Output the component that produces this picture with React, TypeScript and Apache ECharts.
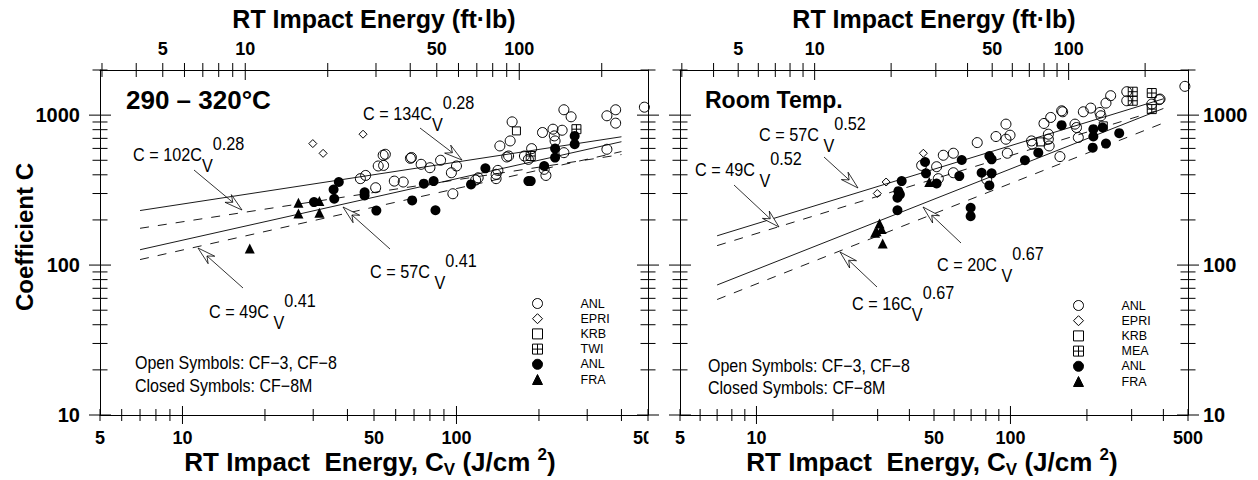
import React, { useEffect, useRef } from "react";
import * as echarts from "echarts";

// ---------- constants / data ----------
const FT_LB_PER_J_CM2 = 0.8 / 1.3558; // ft·lb per J/cm² (0.8 cm² Charpy ligament)

const cvRange = [5, 500];
const cRange = [10, 2000];
const fitCvRange = [7, 400];

const bottomTicks = [5, 6, 7, 8, 9, 10, 20, 30, 40, 50, 60, 70, 80, 90, 100, 200, 300, 400, 500];
const bottomMajor = [10, 100];
const bottomLabels = [5, 10, 50, 100, 500];
const topTicksFt = [3, 4, 5, 6, 7, 8, 9, 10, 20, 30, 40, 50, 60, 70, 80, 90, 100, 200];
const topMajorFt = [10, 100];
const topLabelsFt = [5, 10, 50, 100];
const cTicks = [10, 20, 30, 40, 50, 60, 70, 80, 90, 100, 200, 300, 400, 500, 600, 700, 800, 900, 1000, 2000];
const cMajor = [10, 100, 1000];
const cLabels = [10, 100, 1000];

// fits: C = A * Cv^n
const leftFitA = [134, 102, 57, 49];
const leftFitN = [0.28, 0.28, 0.41, 0.41];
const rightFitA = [57, 49, 20, 16];
const rightFitN = [0.52, 0.52, 0.67, 0.67];
const fitDashed = [false, true, false, true];

// 290–320°C panel
const leftOpenAnl = [
  [44.6, 377], [46.6, 396], [50.7, 328], [51.8, 458], [54.2, 462], [54, 540], [55, 548], [59.3, 363],
  [63.9, 358], [67.9, 515], [68.5, 522], [74.3, 470], [80, 446], [87.5, 500], [95.8, 413], [97, 299],
  [100, 458], [117.5, 369], [120, 382], [139.5, 403], [139.5, 377], [141.6, 428], [144, 623], [152.6, 526],
  [155, 534], [157, 673], [159.6, 902], [177, 534], [183, 507], [188, 598], [206, 766], [209, 435],
  [212, 396], [225, 806], [227.5, 727], [229, 673], [243, 793], [246.6, 562], [246.6, 1086], [262, 975],
  [354, 990], [354, 592], [381, 1086], [381, 884], [485, 1130],
];
const leftEpri = [[29.9, 646], [32.6, 556], [45.6, 746]];
const leftKrb = [[165.5, 785]];
const leftTwi = [[186.6, 534], [274, 806]];
const leftClosedAnl = [
  [30.2, 263], [35.6, 319], [35.8, 277], [37.2, 358], [46.2, 306], [46.2, 291], [51, 231], [68.9, 270],
  [76, 349], [82.5, 363], [83.8, 232], [113, 345], [127.5, 442], [183, 363], [186.6, 363], [209, 458],
  [229, 598], [229, 521], [270, 727], [270, 640],
];
const leftFra = [[17.6, 129], [26.5, 260], [26.5, 221], [31.6, 267], [31.6, 223]];

// Room temperature panel
const rightOpenAnl = [
  [44.7, 462], [51.2, 453], [52, 377], [54.4, 540], [59.6, 557], [59.6, 413], [74, 656], [80.6, 373],
  [87.7, 720], [96, 691], [96, 871], [97.2, 557], [99.6, 735], [121, 673], [122, 640], [135.5, 880],
  [141, 746], [141, 691], [142, 623], [144, 965], [156.6, 529], [159, 1069], [160.5, 1053], [179.5, 871],
  [182, 827], [185, 709], [193.6, 1053], [207, 1114], [225, 1042], [227, 990], [237.7, 1203], [248, 1348],
  [287, 1433], [287, 1247], [360, 1185], [385, 1268], [388, 1280], [486, 1556],
];
const rightEpri = [[29.9, 300], [32.4, 358], [45.4, 557]];
const rightKrb = [[131.5, 663], [232, 848]];
const rightMea = [[303, 1433], [303, 1247], [360, 1404], [360, 1097]];
const rightClosedAnl = [
  [35.9, 232], [35.9, 281], [36.7, 296], [36.2, 311], [37.3, 363], [46.1, 487], [46.5, 409], [51.2, 350],
  [62.9, 392], [64.3, 502], [69.7, 241], [69.7, 212], [77, 413], [82.6, 534], [84.3, 507], [84.3, 409],
  [82.6, 340], [114, 500], [128.7, 562], [159, 857], [210.8, 607], [212, 806], [212, 720], [230.6, 827],
  [237.7, 646], [268, 758],
];
const rightFra = [[29.3, 164], [29.7, 168], [30.5, 189], [31.1, 174], [31.4, 139], [47.9, 358]];

// ---------- styles ----------
const BOLD = "'Liberation Sans', Arial, Helvetica, sans-serif";
const SANS = "'Liberation Sans', Arial, Helvetica, sans-serif";
const BLACK = "#000";
const CLOSED_ANL = "ANL\u200B";
const GRID_SYMBOL = "path://M0 0H10V10H0ZM5 0V10M0 5H10";

const openStyle = { color: "rgba(0,0,0,0)", borderColor: BLACK, borderWidth: 1, opacity: 1 };
const filledStyle = { color: BLACK, borderColor: BLACK, borderWidth: 0, opacity: 1 };

function scatter(name: string, data: number[][], g: number, symbol: string, size: number, style: any) {
  return {
    type: "scatter",
    name,
    data,
    xAxisIndex: g * 2,
    yAxisIndex: g * 2,
    symbol,
    symbolSize: size,
    itemStyle: style,
    z: 4,
    silent: true,
  };
}

function fitLines(g: number, A: number[], N: number[]) {
  return A.map((a, i) => ({
    type: "line",
    name: `C = ${a}Cv^${N[i]}`,
    xAxisIndex: g * 2,
    yAxisIndex: g * 2,
    data: fitCvRange.map((cv) => [cv, a * Math.pow(cv, N[i])]),
    symbol: "none",
    lineStyle: { color: BLACK, width: 0.9, type: fitDashed[i] ? [9, 9] : "solid" },
    z: 3,
    silent: true,
  }));
}

function tickData(labelLeft: boolean, labelRight: boolean) {
  const d: number[][] = [];
  for (const v of bottomTicks) d.push([v, cRange[0], 0, bottomMajor.includes(v) ? 1 : 0, bottomLabels.includes(v) ? v : 0]);
  for (const f of topTicksFt)
    d.push([f / FT_LB_PER_J_CM2, cRange[1], 1, topMajorFt.includes(f) ? 1 : 0, topLabelsFt.includes(f) ? f : 0]);
  for (const c of cTicks) d.push([cvRange[0], c, 2, cMajor.includes(c) ? 1 : 0, labelLeft && cLabels.includes(c) ? c : 0]);
  for (const c of cTicks) d.push([cvRange[1], c, 3, cMajor.includes(c) ? 1 : 0, labelRight && cLabels.includes(c) ? c : 0]);
  return d;
}

function renderTick(params: any, api: any) {
  const x = api.value(0);
  const y = api.value(1);
  const kind = api.value(2);
  const major = api.value(3) > 0;
  const lab = api.value(4);
  const p = api.coord([x, y]);
  let shape: any;
  let text: any = null;
  let size = 18;
  if (kind === 0) {
    const L = major ? 9 : 6;
    shape = { x1: p[0], y1: p[1] - L, x2: p[0], y2: p[1] + L };
    if (lab > 0) text = { x: p[0], y: p[1] + 23, align: "center" };
  } else if (kind === 1) {
    shape = { x1: p[0], y1: p[1] - 7, x2: p[0], y2: p[1] + (major ? 10 : 7) };
    if (lab > 0) text = { x: p[0], y: p[1] - 21, align: "center" };
  } else if (kind === 2) {
    const L = major ? 11 : 7.5;
    shape = { x1: p[0] - L, y1: p[1], x2: p[0] + L, y2: p[1] };
    if (lab > 0) text = { x: p[0] - 20, y: p[1], align: "right" };
    size = 20;
  } else {
    const L = major ? 11 : 7.5;
    shape = { x1: p[0] - L, y1: p[1], x2: p[0] + L, y2: p[1] };
    if (lab > 0) text = { x: p[0] + 15, y: p[1], align: "left" };
    size = 20;
  }
  const children: any[] = [{ type: "line", shape, style: { stroke: BLACK, lineWidth: 1 } }];
  if (text) {
    children.push({
      type: "text",
      x: text.x,
      y: text.y,
      style: {
        text: String(lab),
        fontSize: size,
        fontWeight: "bold",
        fontFamily: BOLD,
        fill: BLACK,
        align: text.align,
        textAlign: text.align,
        verticalAlign: "middle",
        textVerticalAlign: "middle",
      },
    });
  }
  return { type: "group", children };
}

function tickSeries(g: number, labelLeft: boolean, labelRight: boolean) {
  return {
    type: "custom",
    name: `axes${g}`,
    xAxisIndex: g * 2,
    yAxisIndex: g * 2,
    coordinateSystem: "cartesian2d",
    encode: { x: 0, y: 1 },
    data: tickData(labelLeft, labelRight),
    renderItem: renderTick,
    clip: false,
    silent: true,
    z: 5,
  };
}

function axisBase(gridIndex: number, position: string, min: number, max: number) {
  return {
    type: "log",
    logBase: 10,
    gridIndex,
    position,
    min,
    max,
    axisLine: { show: true, onZero: false, lineStyle: { color: BLACK, width: 1 } },
    axisTick: { show: false },
    axisLabel: { show: false },
    splitLine: { show: false },
    minorTick: { show: false },
    minorSplitLine: { show: false },
  };
}

// ---------- graphic helpers ----------
function txt(x: number, y: number, text: string, size: number, bold: boolean, align = "left", extra: any = {}) {
  return {
    type: "text",
    x,
    y,
    z: 50,
    ...extra,
    style: {
      text,
      fontSize: size,
      fontFamily: bold ? BOLD : SANS,
      fontWeight: bold ? "bold" : "normal",
      fill: BLACK,
      align,
      textAlign: align,
      verticalAlign: "middle",
      textVerticalAlign: "middle",
    },
  };
}

function eq(x: number, y: number, main: string, sup: string) {
  return {
    type: "text",
    x,
    y,
    z: 50,
    scaleX: 0.9,
    style: {
      text: `{m|${main}}{s|V}{p|${sup}}`,
      fill: BLACK,
      align: "left",
      textAlign: "left",
      verticalAlign: "middle",
      textVerticalAlign: "middle",
      rich: {
        m: { fontSize: 18, fontFamily: SANS, lineHeight: 40, verticalAlign: "middle", fill: BLACK },
        s: { fontSize: 18, fontFamily: SANS, lineHeight: 10, verticalAlign: "bottom", fill: BLACK },
        p: { fontSize: 18, fontFamily: SANS, lineHeight: 28, verticalAlign: "top", fill: BLACK },
      },
    },
  };
}

function arrow(tail: number[], tip: number[]) {
  const dx = tip[0] - tail[0];
  const dy = tip[1] - tail[1];
  const len = Math.hypot(dx, dy);
  const ux = dx / len;
  const uy = dy / len;
  const px = -uy;
  const py = ux;
  const L = 18;
  const W = 5;
  const Nn = 12;
  const bx = tip[0] - ux * L;
  const by = tip[1] - uy * L;
  const nx = tip[0] - ux * Nn;
  const ny = tip[1] - uy * Nn;
  return [
    { type: "line", z: 40, shape: { x1: tail[0], y1: tail[1], x2: nx, y2: ny }, style: { stroke: BLACK, lineWidth: 0.8 } },
    {
      type: "polygon",
      z: 41,
      shape: { points: [[tip[0], tip[1]], [bx + px * W, by + py * W], [nx, ny], [bx - px * W, by - py * W]] },
      style: { fill: "#fff", stroke: BLACK, lineWidth: 0.8 },
    },
  ];
}

function bottomTitle(x: number, y: number) {
  return {
    type: "text",
    x,
    y,
    z: 50,
    style: {
      text: "{a|RT Impact  Energy, C}{b|V}{a| (J/cm }{c|2}{a|)}",
      fill: BLACK,
      align: "center",
      textAlign: "center",
      verticalAlign: "middle",
      textVerticalAlign: "middle",
      rich: {
        a: { fontSize: 26, fontWeight: "bold", fontFamily: BOLD, lineHeight: 32, verticalAlign: "middle", fill: BLACK },
        b: { fontSize: 17, fontWeight: "bold", fontFamily: BOLD, lineHeight: 10, verticalAlign: "bottom", fill: BLACK },
        c: { fontSize: 17, fontWeight: "bold", fontFamily: BOLD, lineHeight: 16, verticalAlign: "top", fill: BLACK },
      },
    },
  };
}

function legend(left: number, top: number, names: string[]) {
  return {
    orient: "vertical",
    left,
    top,
    padding: 0,
    data: names,
    itemWidth: 10,
    itemHeight: 10,
    itemGap: 2.2,
    selectedMode: false,
    formatter: (n: string) => n.replace(/\u200B/g, ""),
    itemStyle: { borderWidth: 1, opacity: 1 },
    textStyle: { fontSize: 12.5, fontFamily: SANS, color: BLACK, lineHeight: 12, padding: [0, 0, 0, 33] },
  };
}

function buildOption() {
  return {
    animation: false,
    backgroundColor: "#fff",
    grid: [
      { left: 100, top: 70, width: 548, height: 345 },
      { left: 680, top: 70, width: 508, height: 345 },
    ],
    xAxis: [
      axisBase(0, "bottom", cvRange[0], cvRange[1]),
      axisBase(0, "top", cvRange[0] * FT_LB_PER_J_CM2, cvRange[1] * FT_LB_PER_J_CM2),
      axisBase(1, "bottom", cvRange[0], cvRange[1]),
      axisBase(1, "top", cvRange[0] * FT_LB_PER_J_CM2, cvRange[1] * FT_LB_PER_J_CM2),
    ],
    yAxis: [
      axisBase(0, "left", cRange[0], cRange[1]),
      axisBase(0, "right", cRange[0], cRange[1]),
      axisBase(1, "left", cRange[0], cRange[1]),
      axisBase(1, "right", cRange[0], cRange[1]),
    ],
    legend: [
      legend(532, 297, ["ANL", "EPRI", "KRB", "TWI", CLOSED_ANL, "FRA"]),
      legend(1073, 299, ["ANL", "EPRI", "KRB", "MEA", CLOSED_ANL, "FRA"]),
    ],
    series: [
      ...fitLines(0, leftFitA, leftFitN),
      ...fitLines(1, rightFitA, rightFitN),
      scatter("ANL", leftOpenAnl, 0, "circle", 10, openStyle),
      scatter("EPRI", leftEpri, 0, "diamond", 8, openStyle),
      scatter("KRB", leftKrb, 0, "rect", 8, openStyle),
      scatter("TWI", leftTwi, 0, GRID_SYMBOL, 9, openStyle),
      scatter(CLOSED_ANL, leftClosedAnl, 0, "circle", 10, filledStyle),
      scatter("FRA", leftFra, 0, "triangle", 10, filledStyle),
      scatter("ANL", rightOpenAnl, 1, "circle", 10, openStyle),
      scatter("EPRI", rightEpri, 1, "diamond", 8, openStyle),
      scatter("KRB", rightKrb, 1, "rect", 8, openStyle),
      scatter("MEA", rightMea, 1, GRID_SYMBOL, 9, openStyle),
      scatter(CLOSED_ANL, rightClosedAnl, 1, "circle", 10, filledStyle),
      scatter("FRA", rightFra, 1, "triangle", 10, filledStyle),
      tickSeries(0, true, false),
      tickSeries(1, false, true),
    ],
    graphic: {
      elements: [
        txt(374, 19, "RT Impact Energy (ft·lb)", 25, true, "center"),
        txt(934, 19, "RT Impact Energy (ft·lb)", 25, true, "center"),
        bottomTitle(370, 462),
        bottomTitle(932, 462),
        txt(24, 237, "Coefficient C", 24, true, "center", { rotation: Math.PI / 2 }),
        txt(126, 100, "290 – 320°C", 26, true),
        txt(705, 100, "Room Temp.", 23, true),
        txt(135, 363, "Open Symbols: CF−3, CF−8", 18, false, "left", { scaleX: 0.89 }),
        txt(135, 386, "Closed Symbols: CF−8M", 18, false, "left", { scaleX: 0.89 }),
        txt(708, 366, "Open Symbols: CF−3, CF−8", 18, false, "left", { scaleX: 0.89 }),
        txt(708, 388, "Closed Symbols: CF−8M", 18, false, "left", { scaleX: 0.89 }),
        eq(363, 114, "C = 134C", "0.28"),
        eq(133, 155, "C = 102C", "0.28"),
        eq(370, 272, "C = 57C ", "0.41"),
        eq(209, 312, "C = 49C ", "0.41"),
        eq(759, 135, "C = 57C ", "0.52"),
        eq(695, 170, "C = 49C ", "0.52"),
        eq(937, 265, "C = 20C ", "0.67"),
        eq(852, 304, "C = 16C", "0.67"),
        ...arrow([420, 128], [462, 160]),
        ...arrow([194, 170], [242, 210]),
        ...arrow([390, 249], [343, 207]),
        ...arrow([243, 288], [198, 248]),
        ...arrow([824, 157], [858, 188]),
        ...arrow([734, 185], [779, 227]),
        ...arrow([961, 243], [923, 207]),
        ...arrow([877, 287], [840, 252]),
        { type: "rect", z: 100, shape: { x: 648.5, y: 428, width: 18, height: 24 }, style: { fill: "#fff" } },
      ],
    },
  };
}

export default function App() {
  const ref = useRef<HTMLDivElement>(null);
  useEffect(() => {
    document.body.style.margin = "0";
    const chart = echarts.init(ref.current as HTMLDivElement, null, { renderer: "svg" });
    chart.setOption(buildOption() as any);
    return () => chart.dispose();
  }, []);
  return <div ref={ref} style={{ width: 1258, height: 480 }} />;
}
